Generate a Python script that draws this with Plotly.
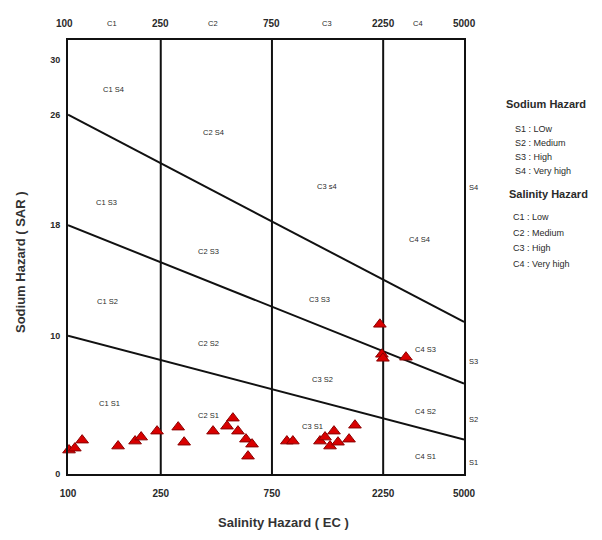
import numpy as np
import plotly.graph_objects as go

# ---- data ----
ec_ticks = [100, 250, 750, 2250, 5000]
ec_tick_labels = ["100", "250", "750", "2250", "5000"]
sar_ticks = [0, 10, 18, 26, 30]
sar_tick_labels = ["0", "10", "18", "26", "30"]

# salinity class boundaries (vertical lines)
ec_boundaries = [250, 750, 2250]
# sodium class boundaries: SAR at EC=100 and EC=5000
sodium_left = [10, 18, 26]
sodium_right = [2.5, 6.55, 11.0]

salinity_classes = ["C1", "C2", "C3", "C4"]
salinity_class_ec = [155, 420, 1290, 3170]
sodium_classes = ["S1", "S2", "S3", "S4"]
sodium_class_sar = [0.86, 3.97, 8.16, 20.7]

# samples
sample_ec = [101, 107, 115, 164, 194, 206, 241, 297, 315, 419, 481, 510, 536,
             580, 616, 592, 869, 922, 1205, 1267, 1331, 1384, 1440, 1606, 1703,
             2178, 2222, 2245, 2818]
sample_sar = [1.73, 1.87, 2.45, 2.02, 2.38, 2.67, 3.10, 3.39, 2.30, 3.10, 3.46,
              4.04, 3.10, 2.52, 2.16, 1.29, 2.38, 2.38, 2.38, 2.67, 2.02, 3.10,
              2.30, 2.52, 3.53, 10.83, 8.66, 8.37, 8.45]

# zone labels
zone_text = ["C1 S4", "C2 S4", "C3 s4", "C4 S4",
             "C1 S3", "C2 S3", "C3 S3", "C4 S3",
             "C1 S2", "C2 S2", "C3 S2", "C4 S2",
             "C1 S1", "C2 S1", "C3 S1", "C4 S1"]
zone_ec = [156, 423, 1291, 3236,
           146, 399, 1205, 3404,
           148, 399, 1241, 3404,
           151, 399, 1114, 3404]
zone_sar = [27.8, 24.7, 20.8, 17.0,
            19.65, 16.1, 12.64, 9.03,
            12.5, 9.46, 6.86, 4.54,
            5.12, 4.26, 3.46, 1.29]

legend_sodium = ["S1 : LOw", "S2 : Medium", "S3 : High", "S4 : Very high"]
legend_salinity = ["C1 : Low", "C2 : Medium", "C3 : High", "C4 : Very high"]

FONT = "Liberation Sans, Arial, sans-serif"
LINE = "#111111"
TXT = "#2a2a2a"

fig = go.Figure()

x_min, x_max = ec_ticks[0], ec_ticks[-1]
y_min, y_max = 0, 31.4

for xb in ec_boundaries:
    fig.add_trace(go.Scatter(x=[xb, xb], y=[y_min, y_max], mode="lines",
                             line=dict(color=LINE, width=2), hoverinfo="skip",
                             showlegend=False))
for yl, yr in zip(sodium_left, sodium_right):
    fig.add_trace(go.Scatter(x=[x_min, x_max], y=[yl, yr], mode="lines",
                             line=dict(color=LINE, width=2), hoverinfo="skip",
                             showlegend=False))

fig.add_trace(go.Scatter(x=sample_ec, y=sample_sar, mode="markers",
                         marker=dict(symbol="triangle-up", size=11, color="#d90000",
                                     line=dict(color="#8a0000", width=1)),
                         cliponaxis=False, showlegend=False))

ann = []
for t, xe, ys in zip(zone_text, zone_ec, zone_sar):
    ann.append(dict(x=np.log10(xe), y=ys, xref="x", yref="y", text=t, showarrow=False,
                    xanchor="center", yanchor="middle",
                    font=dict(size=7.5, color=TXT, family=FONT)))

# top labels
for v, lab in zip(ec_ticks, ec_tick_labels):
    ann.append(dict(x=np.log10(v), y=1.039, xref="x", yref="paper", text=lab,
                    showarrow=False, xshift=-4 if v == 100 else 0,
                    xanchor="center", yanchor="middle",
                    font=dict(size=10, color=TXT, family=FONT, weight="bold")))
for c, v in zip(salinity_classes, salinity_class_ec):
    ann.append(dict(x=np.log10(v), y=1.039, xref="x", yref="paper", text=c,
                    showarrow=False, xanchor="center", yanchor="middle",
                    font=dict(size=7.5, color=TXT, family=FONT)))
# right sodium class labels
for s, v in zip(sodium_classes, sodium_class_sar):
    ann.append(dict(x=1.0, y=v, xref="paper", yref="y", text=s, xanchor="left",
                    yanchor="middle", xshift=3, showarrow=False,
                    font=dict(size=7.5, color=TXT, family=FONT)))

# legend block (positions given in reference pixels relative to plot box)
PL, PT, PW, PH = 68, 40, 396, 434

def px_x(p):
    return (p - PL) / PW

def px_y(p):
    return (PT + PH - p) / PH

ann.append(dict(x=px_x(546), y=px_y(104), xref="paper", yref="paper",
                text="Sodium Hazard", showarrow=False, xanchor="center", yanchor="middle",
                font=dict(size=11, color=TXT, family=FONT, weight="bold")))
for i, t in enumerate(legend_sodium):
    ann.append(dict(x=px_x(513), y=px_y(129 + 14 * i), xref="paper", yref="paper",
                    text=t, showarrow=False, xanchor="left", yanchor="middle",
                    font=dict(size=9, color=TXT, family=FONT)))
ann.append(dict(x=px_x(548), y=px_y(194), xref="paper", yref="paper",
                text="Salinity Hazard", showarrow=False, xanchor="center", yanchor="middle",
                font=dict(size=11, color=TXT, family=FONT, weight="bold")))
for i, t in enumerate(legend_salinity):
    ann.append(dict(x=px_x(511), y=px_y(217 + 15.5 * i), xref="paper", yref="paper",
                    text=t, showarrow=False, xanchor="left", yanchor="middle",
                    font=dict(size=9, color=TXT, family=FONT)))

# axis titles
ann.append(dict(x=px_x(283), y=px_y(522), xref="paper", yref="paper",
                text="Salinity Hazard ( EC )", showarrow=False,
                xanchor="center", yanchor="middle",
                font=dict(size=13, color="#333", family=FONT, weight="bold")))
ann.append(dict(x=px_x(20), y=px_y(262), xref="paper", yref="paper",
                text="Sodium Hazard ( SAR )", showarrow=False, textangle=-90,
                xanchor="center", yanchor="middle",
                font=dict(size=13, color="#333", family=FONT, weight="bold")))

# page body has an 8px default margin: shift the plot box to compensate
OFF = 8
fig.update_layout(
    width=602, height=540,
    margin=dict(l=PL - OFF, r=602 - (PL - OFF) - PW, t=PT - OFF,
                b=540 - (PT - OFF) - PH, autoexpand=False),
    paper_bgcolor="white", plot_bgcolor="white",
    annotations=ann,
    xaxis=dict(type="log", range=[np.log10(x_min), np.log10(x_max)],
               showgrid=False, zeroline=False, showline=True, mirror=True,
               linecolor=LINE, linewidth=2,
               tickvals=ec_ticks, ticktext=ec_tick_labels,
               ticks="outside", ticklen=9, tickcolor="rgba(0,0,0,0)",
               tickfont=dict(size=10, color=TXT, family=FONT, weight="bold")),
    yaxis=dict(range=[y_min, y_max], showgrid=False, zeroline=False,
               showline=True, mirror=True, linecolor=LINE, linewidth=2,
               tickvals=sar_ticks, ticktext=sar_tick_labels,
               ticks="outside", ticklen=4, tickcolor="rgba(0,0,0,0)",
               tickfont=dict(size=9, color=TXT, family=FONT, weight="bold")),
)

fig.write_html("out.html")
